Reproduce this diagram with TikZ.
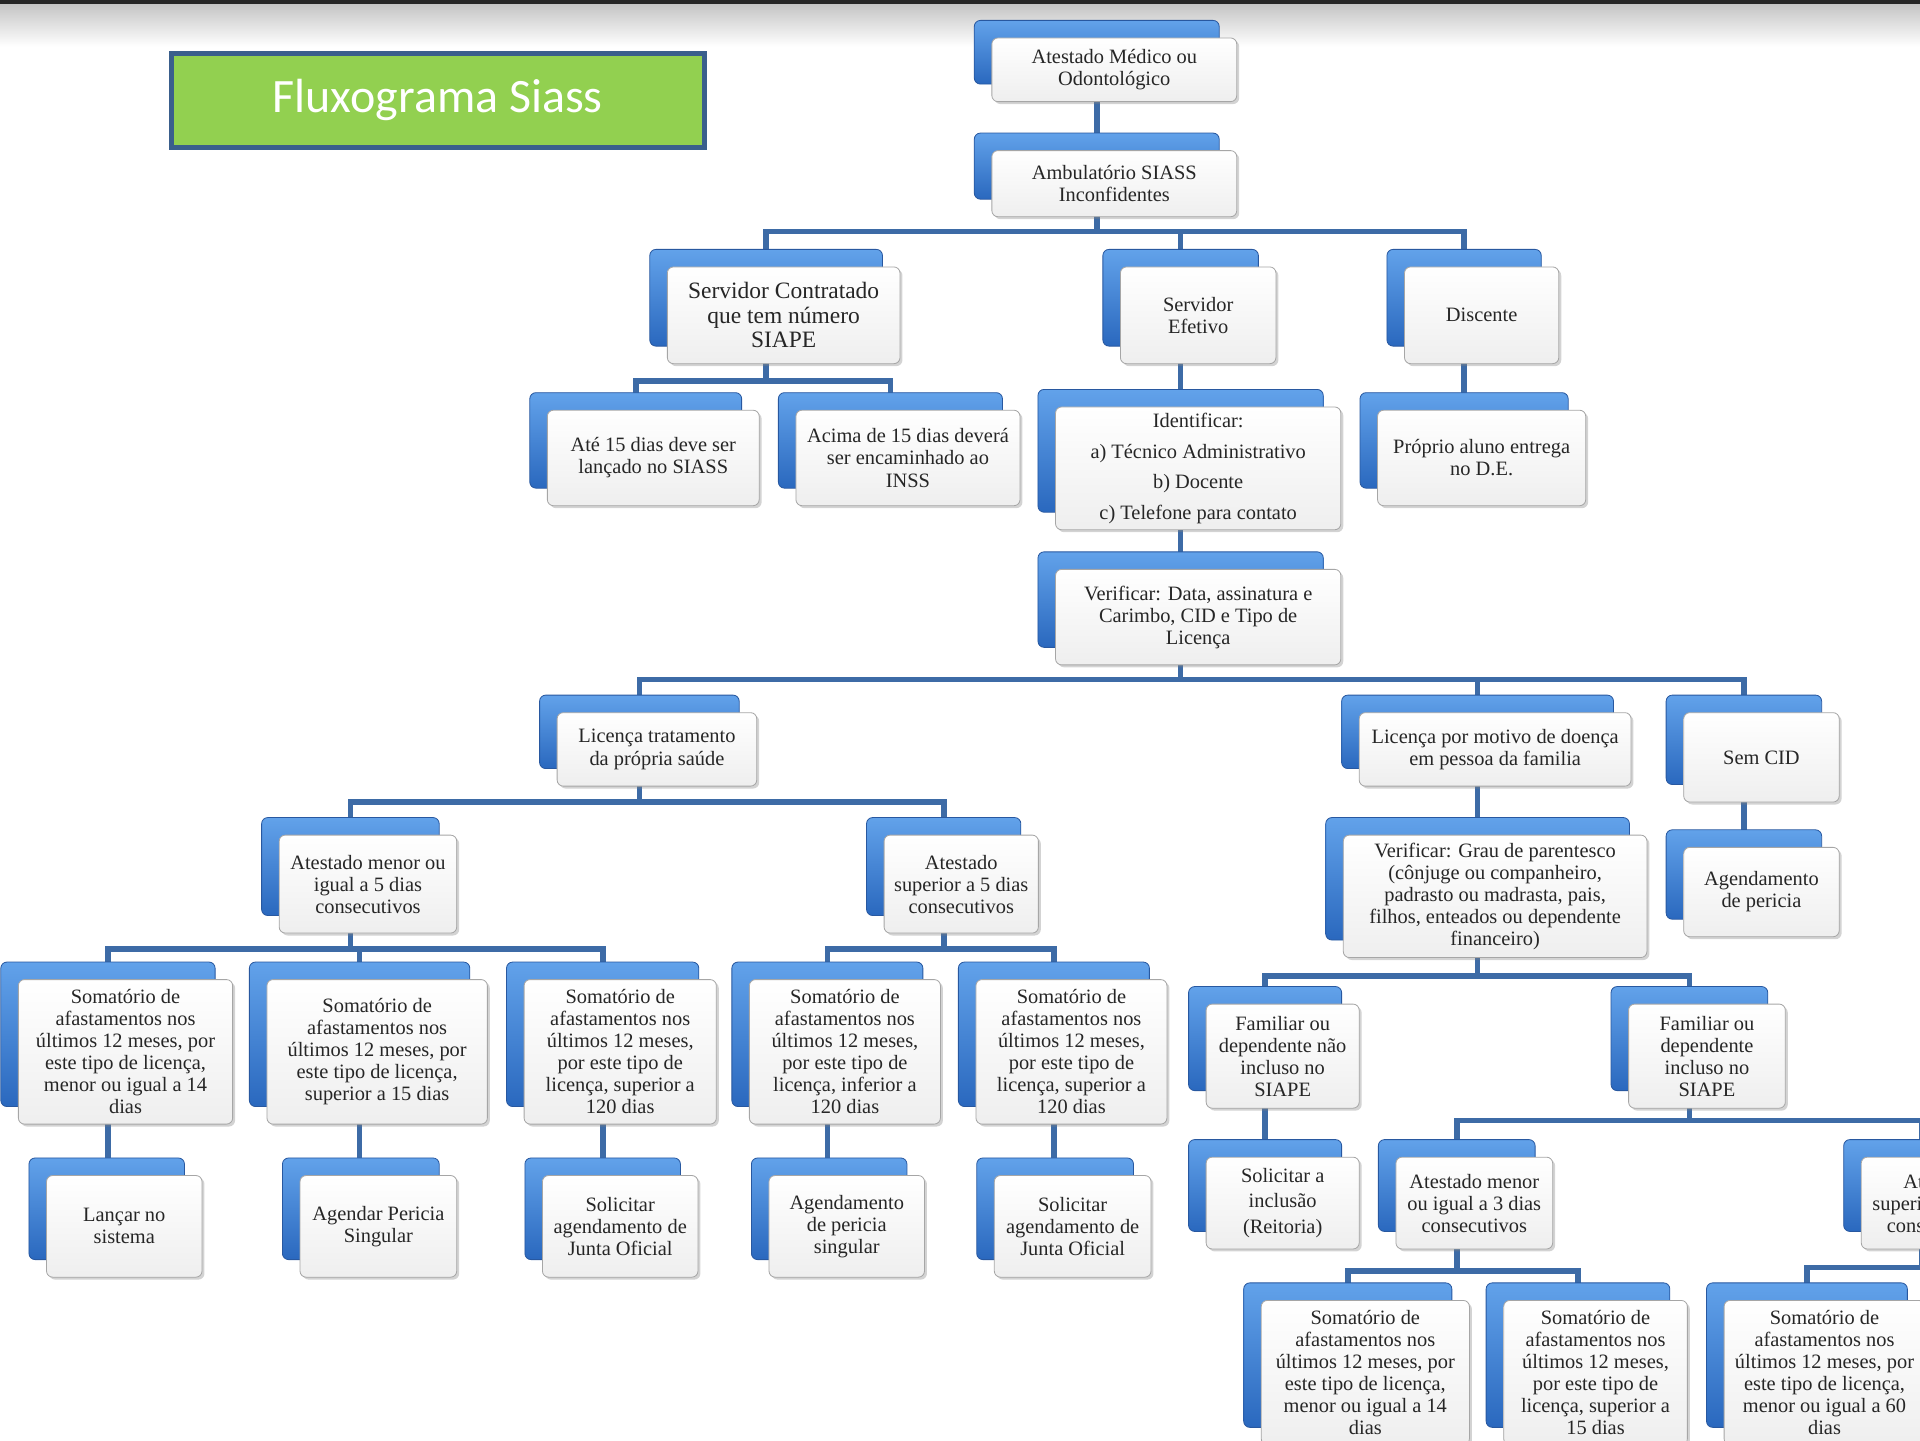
\documentclass[tikz,border=0pt]{standalone}
\usepackage{fontspec}
\setmainfont{Liberation Serif}
\newfontfamily\titulofonte{Carlito}
\usepackage{xcolor}
\usetikzlibrary{shadows, backgrounds}
\definecolor{AzulClaro}{HTML}{62A2EA}
\definecolor{AzulMedio}{HTML}{2A68BE}
\definecolor{AzulBorda}{HTML}{2858A0}
\definecolor{AzulLinha}{HTML}{3D6BA6}
\definecolor{VerdeTitulo}{HTML}{92D050}
\definecolor{AzulTitulo}{HTML}{3A5F8C}
\tikzset{
    caixa/.style={
        draw=gray!70,
        top color=white,
        bottom color=gray!13,
        rounded corners=3pt,
        align=center,
        inner sep=3pt,
        text=black!85,
        font=\fontsize{10}{10.8}\selectfont,
        general shadow={
            shadow xshift=-8.6pt,
            shadow yshift=8.6pt,
            top color=AzulClaro,
            bottom color=AzulMedio,
            draw=AzulBorda
        },
        drop shadow={
            shadow xshift=1.2pt,
            shadow yshift=-1.2pt,
            opacity=0.35
        }
    },
    titulo/.style={
        draw=AzulTitulo,
        line width=2.4pt,
        fill=VerdeTitulo,
        minimum width=261pt,
        minimum height=46.2pt,
        text=white,
        font=\titulofonte\fontsize{23.5}{26}\selectfont
    },
    conector/.style={
        draw=AzulLinha,
        line width=2.8pt,
        transform canvas={xshift=-8.6pt}
    }
}

\begin{document}
\begin{tikzpicture}[x=0.6pt, y=-0.6pt]
        \useasboundingbox (0,0) rectangle (1568,1176);
        \clip (0,0) rectangle (1568,1176);

        % Top band
        \fill[black!85] (0,0) rectangle (1568,4);
        \shade[top color=gray!45, bottom color=white] (0,4) rectangle (1568,38);

        % Title
        \node[titulo] (titulo) at (357.5,82) {Fluxograma Siass};

        % Entrada
        \node[caixa, minimum width=120pt, minimum height=31.2pt] (atestado) at (910,57) {Atestado Médico ou\\Odontológico};
        \node[caixa, minimum width=120pt, minimum height=32.4pt] (ambul) at (910,150) {Ambulatório SIASS\\Inconfidentes};

        % Vinculo
        \node[caixa, minimum width=114pt, minimum height=47.4pt, font=\fontsize{11.5}{12}\selectfont] (contratado) at (640,257.5) {Servidor Contratado\\que tem número\\SIAPE};
        \node[caixa, minimum width=76.2pt, minimum height=47.4pt] (efetivo) at (978.5,257.5) {Servidor\\Efetivo};
        \node[caixa, minimum width=75.6pt, minimum height=47.4pt] (discente) at (1210,257.5) {Discente};

        \node[caixa, minimum width=103.8pt, minimum height=46.8pt] (ate15) at (533.5,374) {Até 15 dias deve ser\\lançado no SIASS};
        \node[caixa, minimum width=109.8pt, minimum height=46.8pt] (acima15) at (741.5,374) {Acima de 15 dias deverá\\ser encaminhado ao\\INSS};
        \node[caixa, minimum width=139.8pt, minimum height=57pt, font=\fontsize{10}{15}\selectfont] (identificar) at (978.5,382.5) {Identificar:\\a) Técnico Administrativo\\b) Docente\\c) Telefone para contato};
        \node[caixa, minimum width=102pt, minimum height=46.8pt] (proprio) at (1210,374) {Próprio aluno entrega\\no D.E.};
        \node[caixa, minimum width=139.8pt, minimum height=46.8pt] (verificar) at (978.5,504) {Verificar: Data, assinatura e\\Carimbo, CID e Tipo de\\Licença};

        % Tipo de licenca
        \node[caixa, minimum width=97.8pt, minimum height=36pt] (licpropria) at (536.5,612) {Licença tratamento\\da própria saúde};
        \node[caixa, minimum width=133.2pt, minimum height=36pt] (licfamilia) at (1221,612) {Licença por motivo de doença\\em pessoa da familia};
        \node[caixa, minimum width=76.2pt, minimum height=43.8pt] (semcid) at (1438.5,618.5) {Sem CID};

        \node[caixa, minimum width=87pt, minimum height=48pt] (menor5) at (300.5,722) {Atestado menor ou\\igual a 5 dias\\consecutivos};
        \node[caixa, minimum width=75.6pt, minimum height=48pt] (superior5) at (785,722) {Atestado\\superior a 5 dias\\consecutivos};
        \node[caixa, minimum width=148.8pt, minimum height=60pt] (grau) at (1221,732) {Verificar: Grau de parentesco\\(cônjuge ou companheiro,\\padrasto ou madrasta, pais,\\filhos, enteados ou dependente\\financeiro)};
        \node[caixa, minimum width=76.2pt, minimum height=43.8pt] (agpericia) at (1438.5,728.5) {Agendamento\\de pericia};

        % Somatorios
        \node[caixa, minimum width=105pt, minimum height=70.8pt] (som1) at (102.5,859) {Somatório de\\afastamentos nos\\últimos 12 meses, por\\este tipo de licença,\\menor ou igual a 14\\dias};
        \node[caixa, minimum width=108pt, minimum height=70.8pt] (som2) at (308,859) {Somatório de\\afastamentos nos\\últimos 12 meses, por\\este tipo de licença,\\superior a 15 dias};
        \node[caixa, minimum width=94.2pt, minimum height=70.8pt] (som3) at (506.5,859) {Somatório de\\afastamentos nos\\últimos 12 meses,\\por este tipo de\\licença, superior a\\120 dias};
        \node[caixa, minimum width=93.6pt, minimum height=70.8pt] (som4) at (690,859) {Somatório de\\afastamentos nos\\últimos 12 meses,\\por este tipo de\\licença, inferior a\\120 dias};
        \node[caixa, minimum width=93.6pt, minimum height=70.8pt] (som5) at (875,859) {Somatório de\\afastamentos nos\\últimos 12 meses,\\por este tipo de\\licença, superior a\\120 dias};
        \node[caixa, minimum width=75pt, minimum height=51pt] (familiarnao) at (1047.5,862.5) {Familiar ou\\dependente não\\incluso no\\SIAPE};
        \node[caixa, minimum width=76.8pt, minimum height=51pt] (familiarsim) at (1394,862.5) {Familiar ou\\dependente\\incluso no\\SIAPE};

        % Encaminhamentos
        \node[caixa, minimum width=76.2pt, minimum height=49.8pt] (lancar) at (101.5,1001.5) {Lançar no\\sistema};
        \node[caixa, minimum width=76.8pt, minimum height=49.8pt] (agendar) at (309,1001.5) {Agendar Pericia\\Singular};
        \node[caixa, minimum width=76.2pt, minimum height=49.8pt] (juntaA) at (506.5,1001.5) {Solicitar\\agendamento de\\Junta Oficial};
        \node[caixa, minimum width=76.2pt, minimum height=49.8pt] (agendamento) at (691.5,1001.5) {Agendamento\\de pericia\\singular};
        \node[caixa, minimum width=76.8pt, minimum height=49.8pt] (juntaB) at (876,1001.5) {Solicitar\\agendamento de\\Junta Oficial};
        \node[caixa, minimum width=75pt, minimum height=45pt, font=\fontsize{10}{12.6}\selectfont] (solicitar) at (1047.5,982.5) {Solicitar a\\inclusão\\(Reitoria)};
        \node[caixa, minimum width=76.8pt, minimum height=45pt] (menor3) at (1204,982.5) {Atestado menor\\ou igual a 3 dias\\consecutivos};
        \node[caixa, minimum width=76.8pt, minimum height=45pt] (superior3) at (1584,982.5) {Atestado\\superior a 3 dias\\consecutivos};

        \node[caixa, minimum width=102pt, minimum height=70.8pt] (som6) at (1115,1121) {Somatório de\\afastamentos nos\\últimos 12 meses, por\\este tipo de licença,\\menor ou igual a 14\\dias};
        \node[caixa, minimum width=90pt, minimum height=70.8pt] (som7) at (1303,1121) {Somatório de\\afastamentos nos\\últimos 12 meses,\\por este tipo de\\licença, superior a\\15 dias};
        \node[caixa, minimum width=98.4pt, minimum height=70.8pt] (som8) at (1490,1121) {Somatório de\\afastamentos nos\\últimos 12 meses, por\\este tipo de licença,\\menor ou igual a 60\\dias};

        % Connectors
        \begin{pgfonlayer}{background}
            \clip (0,0) rectangle (1568,1176);
            \foreach \a/\b in {atestado/ambul, efetivo/identificar, identificar/verificar, discente/proprio, licfamilia/grau, semcid/agpericia, som1/lancar, som2/agendar, som3/juntaA, som4/agendamento, som5/juntaB, familiarnao/solicitar}
                \draw[conector] (\a.center) -- (\a.center |- \b.center);
            \foreach \f in {contratado, efetivo, discente}
                \draw[conector] (ambul.center) -- (ambul.center |- 0,189) -| (\f.center);
            \foreach \f in {ate15, acima15}
                \draw[conector] (contratado.center) -- (contratado.center |- 0,311) -| (\f.center);
            \foreach \f in {licpropria, licfamilia, semcid}
                \draw[conector] (verificar.center) -- (verificar.center |- 0,555) -| (\f.center);
            \foreach \f in {menor5, superior5}
                \draw[conector] (licpropria.center) -- (licpropria.center |- 0,655) -| (\f.center);
            \foreach \f in {som1, som2, som3}
                \draw[conector] (menor5.center) -- (menor5.center |- 0,775) -| (\f.center);
            \foreach \f in {som4, som5}
                \draw[conector] (superior5.center) -- (superior5.center |- 0,775) -| (\f.center);
            \foreach \f in {familiarnao, familiarsim}
                \draw[conector] (grau.center) -- (grau.center |- 0,797) -| (\f.center);
            \foreach \f in {menor3, superior3}
                \draw[conector] (familiarsim.center) -- (familiarsim.center |- 0,915) -| (\f.center);
            \foreach \f in {som6, som7}
                \draw[conector] (menor3.center) -- (menor3.center |- 0,1038) -| (\f.center);
            \draw[conector] (superior3.center) -- (superior3.center |- 0,1035) -| (som8.center);
        \end{pgfonlayer}
    \end{tikzpicture}
\end{document}
